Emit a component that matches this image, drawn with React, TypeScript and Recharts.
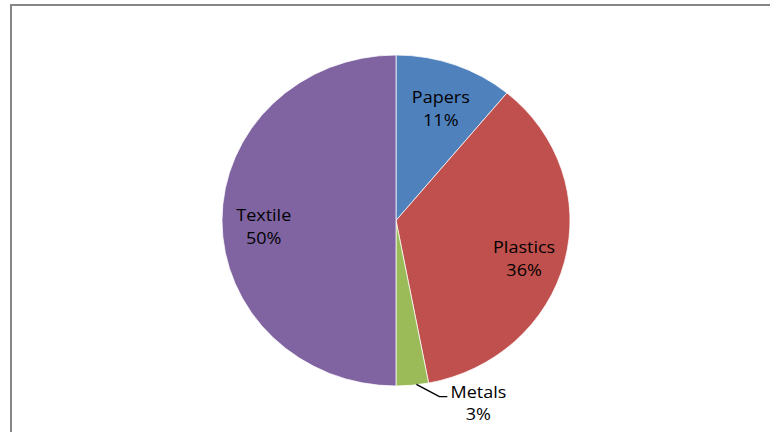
import { PieChart, Pie, Cell } from "recharts";

const materials = ["Papers", "Plastics", "Metals", "Textile"];
const shares = [11, 36, 3, 50];
const colors = ["#4F81BD", "#C0504D", "#9BBB59", "#8064A2"];

const data = materials.map((name, i) => ({ name, value: shares[i] }));

const RAD = Math.PI / 180;

function renderLabel(props: any) {
  const { cx, cy, midAngle, outerRadius, percent, name } = props;
  const pct = `${Math.round(percent * 100)}%`;
  const cos = Math.cos(-midAngle * RAD);
  const sin = Math.sin(-midAngle * RAD);

  if (percent < 0.05) {
    // small slice: label outside with an elbow leader
    const sx = cx + outerRadius * cos + 4;
    const sy = cy + outerRadius * sin - 1;
    const ex = sx + 23;
    const ey = sy + 13;
    const hx = ex + 8;
    return (
      <g>
        <polyline
          points={`${sx},${sy} ${ex},${ey} ${hx},${ey}`}
          fill="none"
          stroke="#000"
          strokeWidth={1.5}
        />
        <text x={hx + 31} y={ey + 1} textAnchor="middle" fill="#000">
          {name}
        </text>
        <text x={hx + 31} y={ey + 25} textAnchor="middle" fill="#000">
          {pct}
        </text>
      </g>
    );
  }

  const r = outerRadius * 0.76;
  const x = cx + r * cos;
  const y = cy + r * sin;
  return (
    <g>
      <text x={x} y={y + 1} textAnchor="middle" fill="#000">
        {name}
      </text>
      <text x={x} y={y + 25} textAnchor="middle" fill="#000">
        {pct}
      </text>
    </g>
  );
}

export default function App() {
  return (
    <div
      style={{
        position: "fixed",
        left: 0,
        top: 0,
        width: 770,
        height: 432,
        overflow: "hidden",
        background: "#ffffff",
        fontFamily: "'Open Sans', sans-serif",
        fontSize: 18,
      }}
    >
      <div
        style={{
          position: "absolute",
          left: 10,
          top: 4,
          width: 820,
          height: 520,
          border: "2px solid #868686",
        }}
      />
      <div
        style={{
          position: "absolute",
          left: 0,
          top: 0,
          transform: "scaleY(0.951)",
          transformOrigin: "396px 220.5px",
        }}
      >
        <PieChart
          width={770}
          height={480}
          margin={{ top: 0, right: 0, bottom: 0, left: 0 }}
          style={{ overflow: "visible" }}
        >
          <Pie
            data={data}
            dataKey="value"
            nameKey="name"
            cx={396}
            cy={220.5}
            outerRadius={174}
            startAngle={90}
            endAngle={-270}
            stroke="#ffffff"
            strokeWidth={0.75}
            label={renderLabel}
            labelLine={false}
            isAnimationActive={false}
          >
            {data.map((d, i) => (
              <Cell key={d.name} fill={colors[i]} />
            ))}
          </Pie>
        </PieChart>
      </div>
    </div>
  );
}
